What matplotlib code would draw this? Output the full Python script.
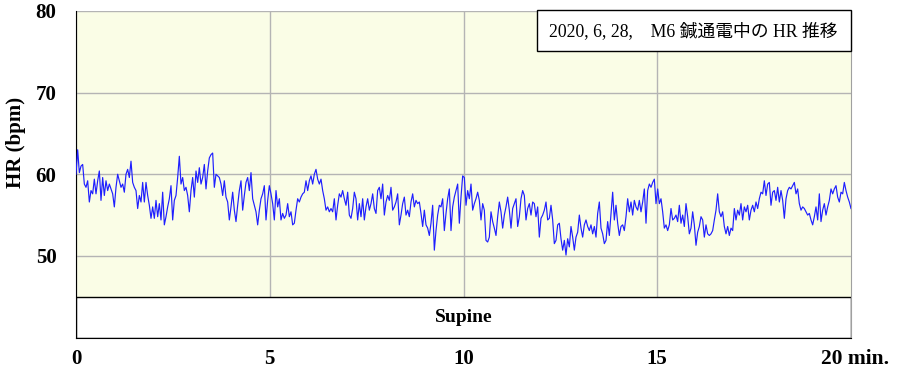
#!/usr/bin/env python3
"""
HR 推移グラフ (2020, 6, 28, M6 鍼通電中) の再現
"""

import numpy as np
import matplotlib
matplotlib.use("Agg")
import matplotlib.pyplot as plt
from matplotlib.patches import Rectangle
import matplotlib.transforms as mtransforms

# ---- data (bpm, equally spaced over 0-20 min) ----
hr_0_4 = [
    60.0, 63.0, 60.2, 61.0, 61.2, 58.8, 58.4, 59.2, 56.6, 58.0, 57.6, 59.4, 57.6, 59.2,
    60.4, 56.8, 59.6, 57.4, 59.2, 58.0, 58.8, 58.2, 57.6, 56.0, 58.4, 60.0, 59.2,
    58.4, 58.8, 57.8, 60.0, 60.6, 59.6, 61.6, 59.0, 58.4, 58.0, 55.8, 57.4, 56.6,
    59.0, 56.6, 59.0, 57.4, 56.2, 54.6, 56.0, 54.6, 56.8, 54.8, 56.4, 54.4, 57.8,
    53.8, 54.8, 56.0, 57.0, 58.6, 54.4, 56.8, 57.4, 59.6, 62.2, 58.8, 59.6, 58.0,
    58.4, 57.4, 55.4, 58.0, 59.6, 57.2, 60.4, 59.0, 60.8, 58.8, 59.6, 61.2, 58.2,
    60.4, 62.0, 62.4, 62.6, 58.4, 60.0, 59.8, 59.6, 58.8, 57.4, 59.2, 57.2, 56.6,
    54.4,
]
hr_4_8 = [
    56.0, 57.8, 55.6, 54.2, 56.2, 58.0, 59.2, 55.6, 57.4, 59.0, 59.6, 58.0, 60.2,
    57.0, 56.2, 55.4, 53.8, 55.6, 57.0, 57.6, 58.6, 54.4, 56.8, 58.6, 57.6, 56.4,
    54.4, 58.0, 56.0, 57.0, 54.4, 55.2, 54.6, 55.0, 56.4, 54.8, 55.4, 53.8, 54.0,
    55.6, 57.0, 56.6, 57.2, 57.6, 57.8, 59.2, 58.0, 59.2, 59.8, 58.8, 60.0, 60.6,
    59.4, 58.8, 59.4, 58.0, 57.0, 55.6, 56.0, 55.4, 55.8, 55.4, 57.0, 54.4, 56.2,
    57.6, 57.2, 58.0, 57.0, 56.2, 57.8, 55.0, 54.6, 55.8, 57.8, 57.0, 54.4, 56.4,
    54.8, 57.0, 54.4, 56.0, 57.0, 55.6, 56.4, 57.6, 55.8, 55.2, 58.0, 58.4, 57.0,
    58.8, 55.0,
]
hr_8_12 = [
    56.6, 57.4, 56.8, 58.4, 55.6, 56.0, 56.6, 57.6, 53.8, 55.0, 56.4, 57.2, 55.0,
    55.6, 54.8, 56.6, 57.6, 56.0, 56.8, 56.4, 56.6, 55.2, 53.6, 55.6, 53.8, 53.4,
    52.5, 54.0, 56.2, 50.7, 53.1, 55.0, 56.2, 56.0, 57.0, 53.1, 55.2, 57.0, 58.2,
    53.1, 56.0, 57.2, 58.0, 58.8, 54.0, 57.2, 59.8, 59.6, 56.2, 58.0, 57.0, 58.8,
    55.6, 56.4, 57.0, 57.8, 56.8, 54.4, 56.4, 55.6, 51.9, 51.7, 52.3, 55.4, 54.2,
    53.4, 52.5, 54.8, 56.6, 55.4, 53.4, 55.0, 56.0, 57.2, 55.6, 53.4, 55.8, 56.4,
    57.0, 53.6, 54.8, 57.0, 58.0, 57.4, 54.4, 55.8, 56.4, 55.0, 56.6, 56.4, 54.8,
    56.0, 52.3,
]
hr_12_16 = [
    54.6, 55.0, 55.6, 56.6, 54.4, 54.6, 56.2, 54.4, 51.5, 51.9, 53.8, 54.0, 52.1,
    50.7, 51.9, 50.1, 52.1, 51.1, 53.6, 52.3, 50.7, 52.3, 52.9, 55.0, 53.4, 52.3,
    53.8, 54.4, 53.6, 53.1, 53.8, 52.7, 53.6, 52.3, 55.2, 56.6, 53.4, 52.7, 51.5,
    51.9, 54.2, 52.5, 55.2, 57.8, 54.4, 56.2, 54.0, 52.5, 53.6, 53.8, 53.1, 54.8,
    57.0, 55.4, 56.6, 55.0, 56.8, 56.0, 55.6, 56.8, 55.4, 56.6, 58.2, 54.0, 58.0,
    58.8, 58.4, 59.0, 59.4, 56.4, 58.2, 56.4, 57.0, 55.4, 53.4, 53.8, 53.1, 53.8,
    55.8, 54.4, 54.6, 55.0, 54.2, 56.2, 54.0, 55.0, 53.6, 56.4, 54.8, 52.7, 53.4,
    55.4, 53.8,
]
hr_16_20 = [
    51.3, 52.9, 53.6, 54.8, 54.4, 52.3, 53.8, 52.7, 52.5, 52.7, 53.1, 54.4, 55.6,
    57.6, 55.4, 54.8, 55.4, 53.6, 52.7, 53.6, 52.5, 53.4, 53.1, 55.8, 54.4, 55.6,
    55.0, 56.4, 54.4, 56.0, 55.4, 56.2, 54.4, 55.6, 56.2, 55.4, 56.6, 55.8, 57.0,
    57.8, 57.6, 59.2, 57.4, 58.8, 59.0, 56.2, 57.8, 58.0, 56.8, 58.4, 56.6, 58.0,
    56.8, 54.6, 57.0, 58.0, 58.4, 58.2, 58.6, 59.0, 57.6, 58.2, 56.4, 55.6, 56.0,
    55.8, 55.4, 55.0, 55.2, 54.4, 53.8, 54.8, 56.0, 54.4, 57.6, 54.2, 55.6, 56.4,
    55.0, 56.0, 56.8, 58.2, 57.6, 58.2, 58.6, 57.2, 56.6, 57.8, 57.6, 59.0, 58.0,
    57.2, 56.6, 55.8,
]

y_ticks = [50, 60, 70, 80]
x_ticks = [0, 5, 10, 15]
x_tick_labels = ["0", "5", "10", "15"]

TITLE = "2020, 6, 28,\u3000M6 鍼通電中の HR 推移"
POSTURE = "Supine"

BG = "#fafde6"
GRID = "#b4b4b4"
LINE = "#1f1fff"
SERIF = "Liberation Serif"
SERIF_JP = ["Liberation Serif", "Noto Sans CJK JP"]


def main():
    hr = np.array(hr_0_4 + hr_4_8 + hr_8_12 + hr_12_16 + hr_16_20)
    t = np.linspace(0, 20, len(hr))

    fig = plt.figure(figsize=(9.07, 3.74), dpi=100)
    ax = fig.add_axes([76 / 907, 1 - 337.5 / 374, 775 / 907, 326.5 / 374])
    ax.set_facecolor(BG)

    ax.plot(t, hr, color=LINE, lw=0.85, zorder=3)

    ax.set_xlim(0, 20)
    ax.set_ylim(40, 80)

    # grid / ticks
    ax.set_yticks(y_ticks)
    ax.set_xticks(x_ticks)
    ax.set_xticklabels(x_tick_labels)
    ax.grid(True, color=GRID, lw=1.0, zorder=1)
    ax.tick_params(length=0)
    ax.tick_params(axis="y", pad=14)
    ax.tick_params(axis="x", pad=8)
    for lbl in ax.get_xticklabels() + ax.get_yticklabels():
        lbl.set_fontfamily(SERIF)
        lbl.set_fontweight("bold")
        lbl.set_fontsize(15)

    # "20 min." label (same row as the tick labels)
    trans = mtransforms.blended_transform_factory(ax.transData, ax.transAxes)
    ax.text(19.22, -0.034, "20 min.", transform=trans, ha="left", va="top",
            fontsize=15.5, fontweight="bold", family=SERIF)

    ax.set_ylabel("HR (bpm)", fontsize=15, fontweight="bold", family=SERIF)
    ax.yaxis.set_label_coords(-0.065, 0.596)

    # spines
    ax.spines["top"].set_visible(False)
    ax.spines["right"].set_color("#a0a0a0")
    ax.spines["left"].set_color("black")
    ax.spines["bottom"].set_color("black")

    # Supine band
    ax.add_patch(Rectangle((0, 40), 20, 5, facecolor="white", edgecolor="black",
                           lw=1.0, zorder=2))
    ax.text(10, 42.5, POSTURE, ha="center", va="center", fontsize=14,
            fontweight="bold", family=SERIF, zorder=4)

    # title box
    ax.add_patch(Rectangle((0.595, 0.877), 0.405, 0.126, transform=ax.transAxes,
                           facecolor="white", edgecolor="black", lw=1.0,
                           zorder=4, clip_on=False))
    ax.text(0.797, 0.939, TITLE, transform=ax.transAxes, ha="center",
            va="center", fontsize=12.8, family=SERIF_JP, zorder=5)

    fig.savefig("out.png", dpi=100)
    plt.close(fig)


if __name__ == "__main__":
    main()
